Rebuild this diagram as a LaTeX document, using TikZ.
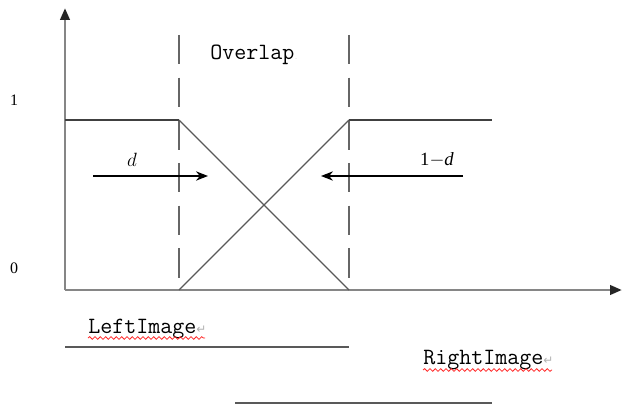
\documentclass[tikz,border=0pt]{standalone}
\usepackage{fontspec}
\setmainfont{Liberation Serif}
\newfontfamily\symfont{DejaVu Sans}
\usetikzlibrary{arrows.meta,decorations.pathmorphing}
\tikzset{
  axis/.style={draw=gray!95, line width=2.2pt, -{Triangle[length=9pt,width=7pt,color=black!85]}},
  curve/.style={draw=black!75, line width=1.5pt},
  slope/.style={draw=black!65, line width=0.9pt},
  boundary/.style={draw=black!60, line width=1.5pt, dash pattern=on 22pt off 10pt},
  distarrow/.style={draw=black, line width=1pt, -{Stealth[length=9pt,width=7pt]}},
  extent/.style={draw=black!65, line width=2pt},
  tag/.style={font=\ttfamily\fontsize{17.5}{20}\selectfont, inner sep=0pt, anchor=base west},
  squiggle/.style={draw=red!85, line width=0.6pt, decorate,
    decoration={snake, amplitude=1pt, segment length=4pt}},
  level/.style={font=\fontsize{12}{14}\selectfont, inner sep=0pt},
  distlabel/.style={font=\itshape\fontsize{14}{16}\selectfont, inner sep=0pt}
}
\begin{document}
\begin{tikzpicture}[x=0.75pt,y=-0.75pt]
\useasboundingbox (0,0) rectangle (624,406);

% key points of the blending profile
\coordinate (O)  at (65,290);
\coordinate (Ytop) at (65,8);
\coordinate (Xend) at (622,290);
\coordinate (L0) at (65,120);
\coordinate (A1) at (179,120);
\coordinate (A0) at (179,290);
\coordinate (B1) at (349,120);
\coordinate (B0) at (349,290);
\coordinate (R1) at (492,120);
\coordinate (Atop) at (179,35);
\coordinate (Btop) at (349,35);

% axes
\draw[axis] (O) -- (Ytop);
\draw[axis] (O) -- (Xend);

% overlap borders
\draw[boundary] (Atop) -- (A0);
\draw[boundary] (Btop) -- (B0);

% weight curves
\draw[curve] (L0) -- (A1);
\draw[curve] (B1) -- (R1);
\draw[slope] (A1) -- (B0);
\draw[slope] (A0) -- (B1);

% level labels
\node[level] (one)  at (14,100) {1};
\node[level] (zero) at (14,268) {0};

% overlap label
\node[tag] (ov) at (210,60) {Overlap\textcolor{gray!60}{\fontsize{5}{6}\selectfont.}};

% distance arrows
\coordinate (d0) at (93,176);
\coordinate (d1) at (208,176);
\coordinate (e0) at (463,176);
\coordinate (e1) at (321,176);
\draw[distarrow] (d0) -- (d1);
\draw[distarrow] (e0) -- (e1);
\node[distlabel] (dl) at (132,160) {$d$};
\node[font=\fontsize{14}{16}\selectfont, inner sep=0pt] (el) at (437,160) {1$-$\textit{d}};

% image extents
\node[tag] (li) at (88,333) {LeftImage\textcolor{gray!60}{\symfont\fontsize{9}{10}\selectfont ↵}};
\node[tag] (ri) at (423,364) {RightImage\textcolor{gray!60}{\symfont\fontsize{9}{10}\selectfont ↵}};
\draw[squiggle] (88,338) -- (205,338);
\draw[squiggle] (423,370) -- (552,370);

\coordinate (la) at (65,347);
\coordinate (lb) at (349,347);
\coordinate (ra) at (235,403);
\coordinate (rb) at (492,403);
\draw[extent] (la) -- (lb);
\draw[extent] (ra) -- (rb);
\end{tikzpicture}
\end{document}
